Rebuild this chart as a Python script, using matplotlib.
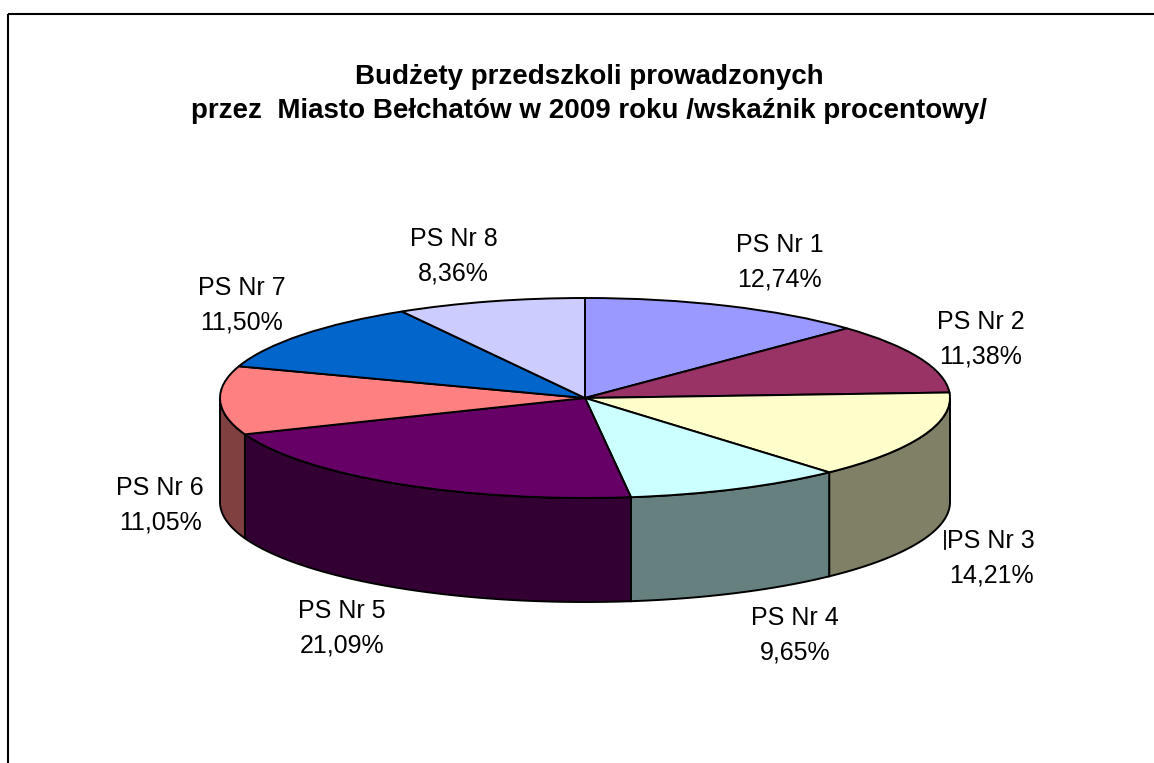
import numpy as np
import matplotlib
matplotlib.use('Agg')
import matplotlib.pyplot as plt
from matplotlib.patches import Rectangle

plt.rcParams['font.family'] = ['Liberation Sans', 'DejaVu Sans']

# dane
labels = ['PS Nr 1', 'PS Nr 2', 'PS Nr 3', 'PS Nr 4',
          'PS Nr 5', 'PS Nr 6', 'PS Nr 7', 'PS Nr 8']
values = [12.74, 11.38, 14.21, 9.65, 21.09, 11.05, 11.50, 8.36]
tops = ['#9999FF', '#993366', '#FFFFCC', '#CCFFFF',
        '#660066', '#FF8080', '#0066CC', '#CCCCFF']
title = 'Budżety przedszkoli prowadzonych\nprzez  Miasto Bełchatów w 2009 roku /wskaźnik procentowy/'

# uklad etykiet (promien w poziomie dla kazdej etykiety)
label_rx = [1.37, 1.184, 1.204, 1.38, 1.303, 1.164, 1.213, 1.386]
label_ry = 1.47
depth = 1.04

W, H = 1154, 763
fig = plt.figure(figsize=(W / 100, H / 100), dpi=100)

bg = fig.add_axes([0, 0, 1, 1])
bg.set_xlim(0, W)
bg.set_ylim(H, 0)
bg.axis('off')
bg.add_patch(Rectangle((8, 14), 1170, 780, fill=False, ec='black', lw=1.5))
bg.text(589, 94, title, ha='center', va='center', fontsize=20,
        fontweight='bold', linespacing=1.38)

# os kolowa: kolo promienia 1 -> elipsa 365x100 px
cx, cy, rx, ry = 585, 398, 365, 100
ax = fig.add_axes([(cx - rx) / W, (H - cy - ry) / H, 2 * rx / W, 2 * ry / H])

wedges, _ = ax.pie(values, colors=tops, startangle=90, counterclock=False,
                   wedgeprops=dict(ec='black', lw=1.4), radius=1)
for w in wedges:
    w.set_clip_on(False)
ax.set_xlim(-1, 1)
ax.set_ylim(-1, 1)
ax.set_aspect('auto')
ax.axis('off')

frac = np.array(values) / sum(values) * 360
ends = np.cumsum(frac)
starts = ends - frac

def darker(c):
    r, g, b = matplotlib.colors.to_rgb(c)
    return (r * 0.5, g * 0.5, b * 0.5)

for a0, a1, c in zip(starts, ends, tops):
    v0, v1 = max(a0, 90), min(a1, 270)
    if v1 <= v0:
        continue
    t = np.radians(np.linspace(v0, v1, 80))
    x = np.sin(t)
    yt = np.cos(t)
    xs = np.concatenate([x, x[::-1]])
    ys = np.concatenate([yt, (yt - depth)[::-1]])
    ax.fill(xs, ys, fc=darker(c), ec='black', lw=1.4, clip_on=False, zorder=0.5)

for i, (lab, v) in enumerate(zip(labels, values)):
    mid = np.radians((starts[i] + ends[i]) / 2)
    lx = label_rx[i] * np.sin(mid)
    ly = label_ry * np.cos(mid)
    if np.cos(mid) < 0:
        ly -= depth
    txt = lab + '\n' + f'{v:.2f}'.replace('.', ',') + '%'
    ax.text(lx, ly, txt, ha='center', va='center', fontsize=18, linespacing=1.55)
    if lab == 'PS Nr 3':
        ax.plot([lx - 46 / rx] * 2, [ly + 0.27, ly + 0.09], color='black',
                lw=1.3, clip_on=False)

fig.savefig('out.png', dpi=100)
